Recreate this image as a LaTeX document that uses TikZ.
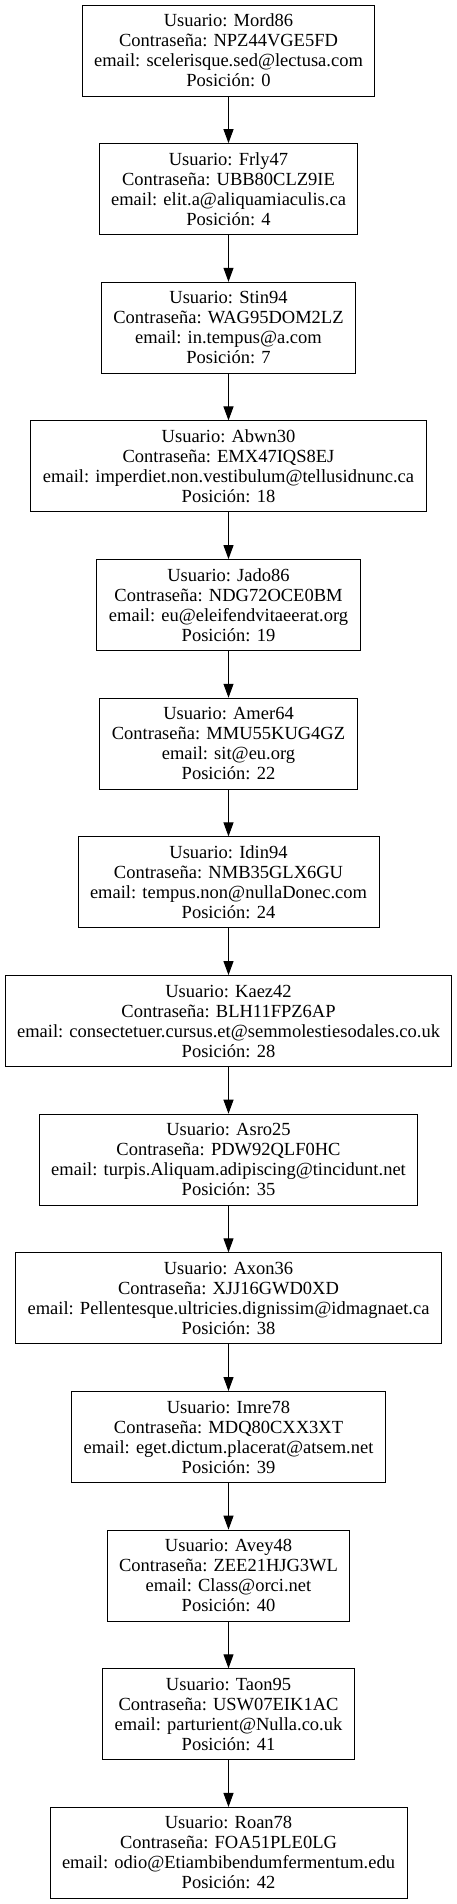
\documentclass[tikz,border=0pt]{standalone}
\usepackage{fontspec}
\setmainfont{Liberation Serif}
\usetikzlibrary{arrows.meta}
\tikzset{
  rec/.style={draw=black, line width=1pt, rectangle, align=center, inner xsep=12pt, inner ysep=0pt,
    minimum height=91pt, font=\fontsize{18.5pt}{20pt}\selectfont},
  conn/.style={draw=black, line width=1pt, -{Triangle[length=14pt,width=10pt]}}
}
\begin{document}
\begin{tikzpicture}[x=1pt,y=1pt]
\useasboundingbox (0,0) rectangle (457,-1904);
\def\cx{228.5}
\node[rec] (n1)  at (\cx,-50.5)   {Usuario: Mord86\\Contraseña: NPZ44VGE5FD\\email: scelerisque.sed@lectusa.com\\Posición: 0};
\node[rec] (n2)  at (\cx,-189.15) {Usuario: Frly47\\Contraseña: UBB80CLZ9IE\\email: elit.a@aliquamiaculis.ca\\Posición: 4};
\node[rec] (n3)  at (\cx,-327.8)  {Usuario: Stin94\\Contraseña: WAG95DOM2LZ\\email: in.tempus@a.com\\Posición: 7};
\node[rec] (n4)  at (\cx,-466.45) {Usuario: Abwn30\\Contraseña: EMX47IQS8EJ\\email: imperdiet.non.vestibulum@tellusidnunc.ca\\Posición: 18};
\node[rec] (n5)  at (\cx,-605.1)  {Usuario: Jado86\\Contraseña: NDG72OCE0BM\\email: eu@eleifendvitaeerat.org\\Posición: 19};
\node[rec] (n6)  at (\cx,-743.75) {Usuario: Amer64\\Contraseña: MMU55KUG4GZ\\email: sit@eu.org\\Posición: 22};
\node[rec] (n7)  at (\cx,-882.4)  {Usuario: Idin94\\Contraseña: NMB35GLX6GU\\email: tempus.non@nullaDonec.com\\Posición: 24};
\node[rec] (n8)  at (\cx,-1021.05){Usuario: Kaez42\\Contraseña: BLH11FPZ6AP\\email: consectetuer.cursus.et@semmolestiesodales.co.uk\\Posición: 28};
\node[rec] (n9)  at (\cx,-1159.7) {Usuario: Asro25\\Contraseña: PDW92QLF0HC\\email: turpis.Aliquam.adipiscing@tincidunt.net\\Posición: 35};
\node[rec] (n10) at (\cx,-1298.35){Usuario: Axon36\\Contraseña: XJJ16GWD0XD\\email: Pellentesque.ultricies.dignissim@idmagnaet.ca\\Posición: 38};
\node[rec] (n11) at (\cx,-1437)   {Usuario: Imre78\\Contraseña: MDQ80CXX3XT\\email: eget.dictum.placerat@atsem.net\\Posición: 39};
\node[rec] (n12) at (\cx,-1575.65){Usuario: Avey48\\Contraseña: ZEE21HJG3WL\\email: Class@orci.net\\Posición: 40};
\node[rec] (n13) at (\cx,-1714.3) {Usuario: Taon95\\Contraseña: USW07EIK1AC\\email: parturient@Nulla.co.uk\\Posición: 41};
\node[rec] (n14) at (\cx,-1852.95){Usuario: Roan78\\Contraseña: FOA51PLE0LG\\email: odio@Etiambibendumfermentum.edu\\Posición: 42};
\foreach \a/\b in {n1/n2,n2/n3,n3/n4,n4/n5,n5/n6,n6/n7,n7/n8,n8/n9,n9/n10,n10/n11,n11/n12,n12/n13,n13/n14}
  \draw[conn] (\a.south) -- (\b.north);
\end{tikzpicture}
\end{document}
